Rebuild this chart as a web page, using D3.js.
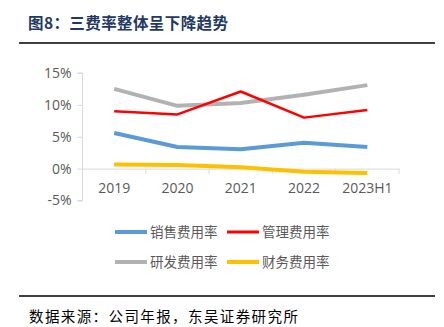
<!DOCTYPE html>
<html><head><meta charset="utf-8">
<script src="https://cdn.jsdelivr.net/npm/d3@7"></script>
<style>body{margin:0;background:#fff}svg{display:block}</style>
</head><body><svg id="c" width="444" height="327"></svg>
<script>
const categories = ["2019","2020","2021","2022","2023H1"];
const seriesNames = ["销售费用率","管理费用率","研发费用率","财务费用率"];
const sales = [5.6, 3.4, 3.05, 4.05, 3.4];
const admin = [9.0, 8.5, 12.1, 8.0, 9.2];
const rnd = [12.5, 9.85, 10.3, 11.6, 13.1];
const fin = [0.65, 0.55, 0.2, -0.5, -0.7];
const yTicks = [-5, 0, 5, 10, 15];
const colors = ["#5B9BD5","#FF0000","#B2B2B2","#FFC000"];
const widths = [4, 2.5, 4, 4];
const allSeries = [sales, admin, rnd, fin];

const svg = d3.select("#c");
const cjk = "'Noto Sans CJK SC', sans-serif";
const lat = "'Open Sans','Noto Sans', sans-serif";

// title
svg.append("text").attr("x", 28).attr("y", 29).attr("fill", "#1F3864")
  .attr("font-family", cjk).attr("font-weight", "bold").attr("font-size", 15.5)
  .attr("letter-spacing", 0.4)
  .text("图8：三费率整体呈下降趋势");
svg.append("line").attr("x1", 19).attr("x2", 435).attr("y1", 43).attr("y2", 43)
  .attr("stroke", "#000").attr("stroke-width", 1.5);
svg.append("line").attr("x1", 19).attr("x2", 435).attr("y1", 296).attr("y2", 296)
  .attr("stroke", "#000").attr("stroke-width", 1.5);
svg.append("text").attr("x", 29).attr("y", 322).attr("fill", "#000")
  .attr("font-family", cjk).attr("font-size", 14.5).attr("letter-spacing", 1.4)
  .text("数据来源：公司年报，东吴证券研究所");

const x = d3.scaleBand().domain(categories).range([82.5, 399]);
const y = d3.scaleLinear().domain([-5, 15]).range([200.5, 73]);

// y axis
const ya = svg.append("g").attr("transform", "translate(82.5,0)")
  .call(d3.axisLeft(y).tickValues(yTicks).tickFormat(d => d + "%").tickSize(5).tickPadding(6));
ya.select(".domain").attr("stroke", "#D9D9D9").attr("d", `M-5,${y(15)}H0V${y(-5)}H-5`);
ya.selectAll(".tick line").attr("stroke", "#D9D9D9");
ya.selectAll(".tick text").attr("fill", "#595959").attr("font-family", lat).attr("font-size", 14);

// x axis at 0
const xa = svg.append("g").attr("transform", `translate(0,${y(0)})`)
  .call(d3.axisBottom(x).tickSize(0).tickPadding(0));
xa.select(".domain").attr("stroke", "#D9D9D9");
xa.selectAll(".tick line").remove();
xa.selectAll(".tick text").attr("fill", "#595959").attr("font-family", lat).attr("font-size", 14)
  .attr("dy", 0).attr("y", 24);
// x tick marks at band boundaries
const bounds = categories.map(c => x(c)).concat([x(categories[categories.length-1]) + x.bandwidth()]);
svg.append("g").selectAll("line").data(bounds).join("line")
  .attr("x1", d => d).attr("x2", d => d).attr("y1", y(0)).attr("y2", y(0) + 5)
  .attr("stroke", "#D9D9D9");

const line = d3.line().x((d, i) => x(categories[i]) + x.bandwidth() / 2).y(d => y(d));
// draw order: sales, rnd, admin, fin
[0, 2, 1, 3].forEach(k => {
  svg.append("path").datum(allSeries[k]).attr("d", line).attr("fill", "none")
    .attr("stroke", colors[k]).attr("stroke-width", widths[k]).attr("stroke-linejoin", "round");
});

// legend
const legPos = [[115, 232], [227, 232], [115, 262], [227, 262]];
seriesNames.forEach((n, k) => {
  const [lx, ly] = legPos[k];
  svg.append("line").attr("x1", lx).attr("x2", lx + 32).attr("y1", ly).attr("y2", ly)
    .attr("stroke", colors[k]).attr("stroke-width", widths[k] === 2.5 ? 3 : 4);
  svg.append("text").attr("x", lx + 35).attr("y", ly + 5).attr("fill", "#595959")
    .attr("font-family", cjk).attr("font-size", 13.5).text(n);
});
</script></body></html>
